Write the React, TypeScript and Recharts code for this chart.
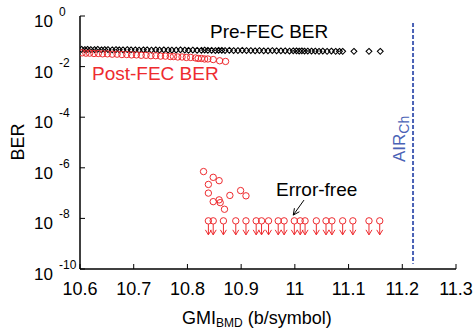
import React from 'react';
import { ScatterChart, Scatter, XAxis, YAxis, ReferenceLine } from 'recharts';

const xTicks = [10.6, 10.7, 10.8, 10.9, 11, 11.1, 11.2, 11.3];
const xTickLabels = ['10.6', '10.7', '10.8', '10.9', '11', '11.1', '11.2', '11.3'];
const yTicks = [1e-10, 1e-8, 1e-6, 1e-4, 1e-2, 1];
const yTickExponents = ['-10', '-8', '-6', '-4', '-2', '0'];

const preFecX = [10.603, 10.609, 10.614, 10.62, 10.627, 10.633, 10.64, 10.646, 10.652, 10.66,
  10.667, 10.673, 10.68, 10.688, 10.695, 10.703, 10.71, 10.718, 10.725, 10.733,
  10.741, 10.748, 10.756, 10.764, 10.771, 10.779, 10.787, 10.795, 10.802, 10.81,
  10.818, 10.826, 10.832, 10.838, 10.845, 10.852, 10.858, 10.864, 10.87, 10.878,
  10.886, 10.894, 10.902, 10.91, 10.918, 10.926, 10.934, 10.942, 10.95, 10.958,
  10.966, 10.974, 10.982, 10.99, 10.997, 11.003, 11.008, 11.013, 11.018, 11.024,
  11.031, 11.038, 11.045, 11.052, 11.06, 11.068, 11.076, 11.083, 11.089, 11.11,
  11.138, 11.159];
const preFecBer = [0.048, 0.047, 0.048, 0.047, 0.047, 0.048, 0.046, 0.047, 0.047, 0.046,
  0.047, 0.046, 0.046, 0.047, 0.046, 0.046, 0.045, 0.046, 0.046, 0.045,
  0.046, 0.045, 0.046, 0.045, 0.045, 0.045, 0.046, 0.045, 0.044, 0.045,
  0.044, 0.044, 0.045, 0.044, 0.044, 0.043, 0.044, 0.044, 0.043, 0.044,
  0.043, 0.043, 0.044, 0.043, 0.043, 0.042, 0.043, 0.042, 0.042, 0.043,
  0.042, 0.042, 0.042, 0.041, 0.042, 0.042, 0.041, 0.042, 0.041, 0.041,
  0.041, 0.041, 0.040, 0.041, 0.040, 0.041, 0.040, 0.040, 0.040, 0.040,
  0.040, 0.040];

const postFecX = [10.604, 10.611, 10.618, 10.626, 10.634, 10.642, 10.651, 10.66, 10.669, 10.678,
  10.687, 10.696, 10.705, 10.714, 10.723, 10.732, 10.741, 10.75, 10.759, 10.768,
  10.774, 10.782, 10.79, 10.798, 10.806, 10.815, 10.82, 10.826, 10.832, 10.838,
  10.848, 10.86, 10.871];
const postFecBer = [0.035, 0.034, 0.034, 0.033, 0.033, 0.032, 0.032, 0.031, 0.031, 0.030,
  0.030, 0.029, 0.029, 0.028, 0.028, 0.027, 0.027, 0.026, 0.026, 0.025,
  0.025, 0.024, 0.024, 0.023, 0.023, 0.022, 0.021, 0.021, 0.020, 0.020,
  0.019, 0.017, 0.016];

const residualX = [10.830, 10.848, 10.859, 10.839, 10.839, 10.848, 10.859, 10.861, 10.869, 10.879, 10.899, 10.909];
const residualBer = [7.1e-7, 4.2e-7, 3.1e-7, 2.2e-7, 1.0e-7, 4.6e-8, 5.4e-8, 4.2e-8, 2.3e-8, 8.1e-8, 1.26e-7, 7.8e-8];

const errorFreeX = [10.839, 10.848, 10.867, 10.890, 10.909, 10.928, 10.938, 10.951, 10.969, 10.980,
  10.999, 11.010, 11.019, 11.040, 11.058, 11.069, 11.089, 11.108, 11.138, 11.158];
const errorFreeBer = [8e-9, 8e-9, 8e-9, 8e-9, 8e-9, 8e-9, 8e-9, 8e-9, 8e-9, 8e-9,
  8e-9, 8e-9, 8e-9, 8e-9, 8e-9, 8e-9, 8e-9, 8e-9, 8e-9, 8e-9];

const airCh = 11.22;
const airLineTop = 0.53;
const airLineBottom = 1.6e-10;
const arrowStart = { x: 11.017, y: 5.3e-8 };
const arrowEnd = { x: 10.997, y: 1.35e-8 };

const preData = preFecX.map((x, i) => ({ x, y: preFecBer[i] }));
const postData = postFecX.map((x, i) => ({ x, y: postFecBer[i] }));
const residualData = residualX.map((x, i) => ({ x, y: residualBer[i] }));
const errorFreeData = errorFreeX.map((x, i) => ({ x, y: errorFreeBer[i] }));

const FONT = 'Liberation Sans, Arial, Helvetica, sans-serif';
const RED = '#ee2b2f';
const BLUE = '#4a62b6';

const BottomTick = (p: any) => {
  const { x, y, payload } = p;
  const i = xTicks.findIndex((t) => Math.abs(t - payload.value) < 1e-9);
  return (
    <g>
      <line x1={x} y1={y} x2={x} y2={y - 5} stroke="#000" strokeWidth={1} />
      <text x={x} y={y + 26} textAnchor="middle" fontSize={18} fontFamily={FONT} fill="#000">{xTickLabels[i]}</text>
    </g>
  );
};
const TopTick = (p: any) => {
  const { x, y } = p;
  return <line x1={x} y1={y} x2={x} y2={y + 5} stroke="#000" strokeWidth={1} />;
};
const LeftTick = (p: any) => {
  const { x, y, payload } = p;
  const i = yTicks.findIndex((t) => Math.abs(Math.log10(t) - Math.log10(payload.value)) < 1e-6);
  return (
    <g>
      <line x1={x} y1={y} x2={x + 5} y2={y} stroke="#000" strokeWidth={1} />
      <text x={x - 27} y={y + 11} textAnchor="end" fontSize={17} fontFamily={FONT} fill="#000">10</text>
      <text x={x - 21} y={y} textAnchor="start" fontSize={12} fontFamily={FONT} fill="#000">{yTickExponents[i]}</text>
    </g>
  );
};
const RightTick = (p: any) => {
  const { x, y } = p;
  return <line x1={x} y1={y} x2={x - 5} y2={y} stroke="#000" strokeWidth={1} />;
};

const Diamond = (p: any) => {
  const { cx, cy } = p;
  const s = 2.9;
  return <polygon points={`${cx},${cy - s} ${cx + s},${cy} ${cx},${cy + s} ${cx - s},${cy}`} fill="none" stroke="#000" strokeWidth={1.1} />;
};
const RedCircle = (p: any) => {
  const { cx, cy } = p;
  return <circle cx={cx} cy={cy} r={3.2} fill="none" stroke={RED} strokeWidth={1} />;
};
const ErrorFreeMark = (p: any) => {
  const { cx, cy } = p;
  return (
    <g>
      <circle cx={cx} cy={cy} r={3.2} fill="none" stroke={RED} strokeWidth={1} />
      <line x1={cx} y1={cy + 3.2} x2={cx} y2={cy + 14} stroke={RED} strokeWidth={1} />
      <polyline points={`${cx - 3},${cy + 9} ${cx},${cy + 14} ${cx + 3},${cy + 9}`} fill="none" stroke={RED} strokeWidth={1} />
    </g>
  );
};
const ArrowShape = (p: any) => {
  const { x1, y1, x2, y2 } = p;
  const ang = Math.atan2(y2 - y1, x2 - x1);
  const L = 7;
  const w = 0.45;
  const ax = x2 - L * Math.cos(ang - w);
  const ay = y2 - L * Math.sin(ang - w);
  const bx = x2 - L * Math.cos(ang + w);
  const by = y2 - L * Math.sin(ang + w);
  return (
    <g>
      <line x1={x1} y1={y1} x2={x2} y2={y2} stroke="#000" strokeWidth={1} />
      <polyline points={`${ax},${ay} ${x2},${y2} ${bx},${by}`} fill="none" stroke="#000" strokeWidth={1} />
    </g>
  );
};

export default function App() {
  const axisLine = { stroke: '#000', strokeWidth: 1.5 };
  return (
    <div style={{ position: 'absolute', left: 0, top: 0, width: 474, height: 331, background: '#fff' }}>
      <ScatterChart width={474} height={331} margin={{ top: 16, right: 18, bottom: 0, left: 0 }}>
        <XAxis xAxisId="x" type="number" dataKey="x" domain={[10.6, 11.3]} ticks={xTicks} interval={0}
          height={62} tickSize={0} tickMargin={0} tick={(p: any) => <BottomTick {...p} />} tickLine={false}
          axisLine={axisLine} allowDataOverflow />
        <XAxis xAxisId="xt" orientation="top" type="number" dataKey="x" domain={[10.6, 11.3]} ticks={xTicks} interval={0}
          height={0} tickSize={0} tickMargin={0} tick={(p: any) => <TopTick {...p} />} tickLine={false}
          axisLine={axisLine} allowDataOverflow />
        <YAxis yAxisId="y" type="number" dataKey="y" scale="log" domain={[1e-10, 1]} ticks={yTicks} interval={0}
          width={80} tickSize={0} tickMargin={0} tick={(p: any) => <LeftTick {...p} />} tickLine={false}
          axisLine={axisLine} allowDataOverflow />
        <YAxis yAxisId="yr" orientation="right" type="number" dataKey="y" scale="log" domain={[1e-10, 1]} ticks={yTicks} interval={0}
          width={0} tickSize={0} tickMargin={0} tick={(p: any) => <RightTick {...p} />} tickLine={false}
          axisLine={axisLine} allowDataOverflow />
        <ReferenceLine xAxisId="x" yAxisId="y" segment={[{ x: airCh, y: airLineTop }, { x: airCh, y: airLineBottom }]}
          stroke={BLUE} strokeWidth={2} strokeDasharray="4 2" />
        <ReferenceLine xAxisId="x" yAxisId="y" segment={[arrowStart, arrowEnd]} shape={(p: any) => <ArrowShape {...p} />} />
        <Scatter xAxisId="x" yAxisId="y" data={preData} shape={(p: any) => <Diamond {...p} />} isAnimationActive={false} />
        <Scatter xAxisId="x" yAxisId="y" data={postData} shape={(p: any) => <RedCircle {...p} />} isAnimationActive={false} />
        <Scatter xAxisId="x" yAxisId="y" data={residualData} shape={(p: any) => <RedCircle {...p} />} isAnimationActive={false} />
        <Scatter xAxisId="x" yAxisId="y" data={errorFreeData} shape={(p: any) => <ErrorFreeMark {...p} />} isAnimationActive={false} />
      </ScatterChart>
      <svg width={474} height={331} style={{ position: 'absolute', left: 0, top: 0, pointerEvents: 'none' }}>
        <text x={210} y={38} fontSize={19} fontFamily={FONT} fill="#000">Pre-FEC BER</text>
        <text x={92} y={80} fontSize={19} fontFamily={FONT} fill={RED}>Post-FEC BER</text>
        <text x={276} y={196} fontSize={19} fontFamily={FONT} fill="#000">Error-free</text>
        <text x={24} y={142} fontSize={18} fontFamily={FONT} fill="#000" textAnchor="middle" transform="rotate(-90 24 142)">BER</text>
        <text x={182} y={324} fontSize={18} fontFamily={FONT} fill="#000">
          GMI<tspan fontSize={12} dy={3}>BMD</tspan><tspan dy={-3}> (b/symbol)</tspan>
        </text>
        <text x={405} y={162} fontSize={17} fontFamily={FONT} fill={BLUE} transform="rotate(-90 405 162)">
          AIR<tspan fontSize={14} dy={4}>Ch</tspan>
        </text>
      </svg>
    </div>
  );
}
